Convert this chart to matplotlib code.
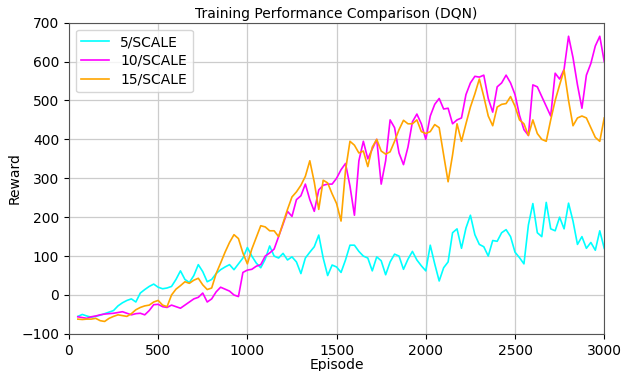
import matplotlib
matplotlib.use("Agg")
import matplotlib.pyplot as plt
import numpy as np

# episodes sampled every 25 from 50 to 3000
episodes = np.arange(50, 3001, 25)

reward_5 = [
    -55, -50, -54, -57, -55, -52, -48, -44, -40, -28, -20, -14, -10, -18, 5, 14,
    22, 28, 20, 16, 18, 22, 40, 62, 40, 32, 50, 78, 60, 34, 40, 55, 65, 72, 78,
    65, 80, 95, 122, 100, 82, 70, 92, 126, 100, 95, 107, 90, 98, 85, 55, 95, 110,
    124, 154, 95, 50, 77, 72, 58, 90, 128, 128, 112, 100, 95, 62, 98, 88, 52, 85,
    105, 100, 66, 92, 112, 90, 75, 62, 128, 80, 36, 70, 85, 160, 170, 120, 172,
    205, 155, 130, 124, 100, 140, 138, 160, 168, 150, 110, 96, 80, 180, 235, 160,
    150, 238, 170, 165, 200, 170, 236, 190, 130, 150, 120, 135, 115, 165, 120,
]

reward_10 = [
    -56, -58, -60, -56, -54, -51, -49, -48, -47, -45, -43, -47, -51, -48, -47,
    -51, -40, -25, -24, -30, -32, -26, -30, -34, -26, -18, -10, -6, 5, -18, -10,
    8, 20, 15, 10, 0, -4, 58, 64, 66, 74, 78, 100, 108, 118, 150, 182, 215, 202,
    245, 255, 285, 245, 215, 270, 282, 285, 285, 300, 322, 338, 280, 205, 345,
    395, 350, 375, 400, 285, 345, 450, 430, 365, 335, 380, 445, 465, 440, 400,
    460, 490, 505, 478, 480, 440, 450, 455, 515, 545, 562, 560, 565, 505, 470,
    535, 545, 565, 545, 515, 462, 425, 410, 540, 535, 510, 485, 460, 570, 555,
    580, 665, 610, 540, 480, 565, 595, 640, 665, 600,
]

reward_15 = [
    -62, -63, -62, -62, -60, -66, -68, -60, -55, -51, -53, -55, -48, -38, -32,
    -28, -26, -18, -14, -26, -30, 0, 15, 24, 34, 30, 38, 43, 26, 14, 18, 55, 82,
    110, 135, 155, 145, 108, 80, 118, 148, 178, 175, 165, 165, 150, 185, 220,
    252, 265, 282, 305, 345, 290, 220, 295, 288, 260, 235, 190, 320, 395, 385,
    365, 370, 330, 380, 400, 370, 362, 368, 395, 425, 449, 440, 440, 450, 420,
    415, 420, 438, 430, 360, 291, 360, 440, 395, 440, 483, 517, 555, 510, 460,
    435, 483, 490, 492, 510, 485, 450, 440, 410, 450, 415, 400, 395, 450, 500,
    540, 578, 500, 435, 455, 460, 455, 430, 405, 395, 455,
]

labels = ["5/SCALE", "10/SCALE", "15/SCALE"]
colors = ["cyan", "magenta", "orange"]

fig, ax = plt.subplots(figsize=(6.21, 3.71), dpi=100)
fig.subplots_adjust(left=0.111, right=0.973, top=0.939, bottom=0.1)

for data, lab, col in zip([reward_5, reward_10, reward_15], labels, colors):
    ax.plot(episodes, data, color=col, linewidth=1.2, label=lab)

ax.set_xlim(0, 3000)
ax.set_ylim(-100, 700)
ax.set_xticks([0, 500, 1000, 1500, 2000, 2500, 3000])
ax.set_yticks(range(-100, 701, 100))
ax.grid(True, color="#cccccc", linewidth=0.9)
ax.set_axisbelow(True)
ax.tick_params(labelsize=10)
for s in ax.spines.values():
    s.set_color("#555555")

ax.set_title("Training Performance Comparison (DQN)", fontsize=10, pad=3)
ax.set_xlabel("Episode", fontsize=10, labelpad=0)
ax.set_ylabel("Reward", fontsize=10, labelpad=0)
ax.legend(loc="upper left", fontsize=10, labelspacing=0.35)

fig.savefig("out.png", dpi=100)
